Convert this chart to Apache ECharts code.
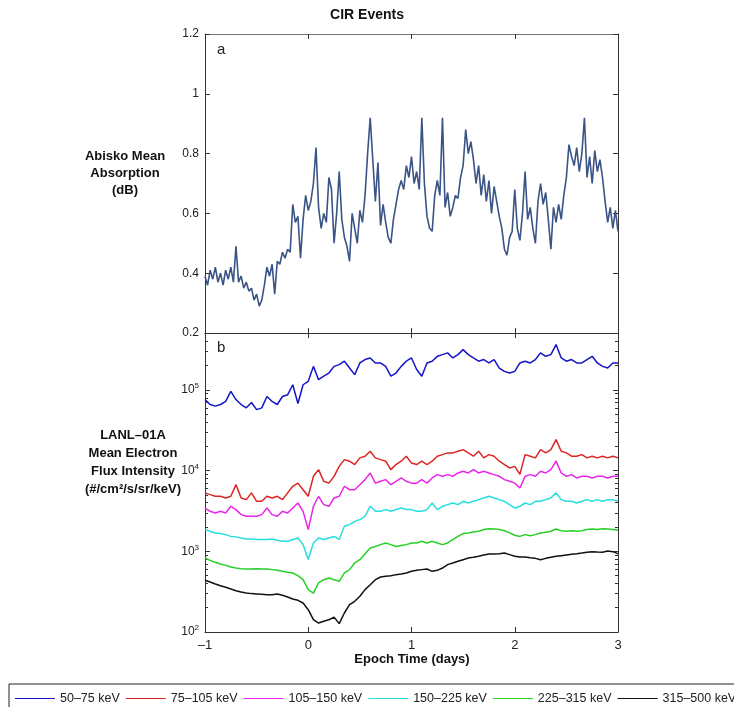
<!DOCTYPE html>
<html>
<head>
<meta charset="utf-8">
<script src="https://cdn.jsdelivr.net/npm/echarts@6/dist/echarts.min.js"></script>
<style>
  html, body { margin: 0; padding: 0; background: #fff; }
  #main { width: 734px; height: 707px; }
</style>
</head>
<body>
<div id="main"></div>
<script>
// epoch time grid: panel a every 0.025 d, panel b every 0.05 d, from -1 to 3
var T0 = -1
var STEP_A = 0.025
var STEP_B = 0.05

// panel a: Abisko mean absorption (dB)
var absorption = [
  0.39, 0.36, 0.41, 0.38, 0.42, 0.37, 0.40, 0.36,
  0.41, 0.38, 0.42, 0.37, 0.49, 0.37, 0.39, 0.35,
  0.37, 0.34, 0.35, 0.31, 0.33, 0.29, 0.31, 0.36,
  0.42, 0.39, 0.43, 0.33, 0.44, 0.43, 0.47, 0.45,
  0.48, 0.47, 0.63, 0.57, 0.59, 0.45, 0.58, 0.66,
  0.61, 0.64, 0.70, 0.82, 0.62, 0.55, 0.60, 0.57,
  0.72, 0.68, 0.50, 0.60, 0.74, 0.58, 0.52, 0.49,
  0.44, 0.60, 0.55, 0.50, 0.61, 0.57, 0.66, 0.80,
  0.92, 0.78, 0.64, 0.77, 0.56, 0.63, 0.57, 0.52,
  0.50, 0.58, 0.63, 0.68, 0.71, 0.68, 0.76, 0.72,
  0.79, 0.70, 0.74, 0.68, 0.92, 0.70, 0.59, 0.55,
  0.54, 0.66, 0.71, 0.66, 0.92, 0.62, 0.67, 0.59,
  0.62, 0.66, 0.65, 0.72, 0.76, 0.88, 0.80, 0.84,
  0.78, 0.70, 0.76, 0.66, 0.73, 0.64, 0.71, 0.60,
  0.69, 0.64, 0.59, 0.55, 0.48, 0.46, 0.52, 0.54,
  0.68, 0.55, 0.51, 0.60, 0.74, 0.58, 0.62, 0.55,
  0.50, 0.64, 0.70, 0.63, 0.67, 0.58, 0.48, 0.62,
  0.57, 0.63, 0.58, 0.66, 0.72, 0.83, 0.79, 0.76,
  0.82, 0.74, 0.80, 0.92, 0.72, 0.79, 0.70, 0.81,
  0.74, 0.78, 0.72, 0.64, 0.57, 0.62, 0.55, 0.61,
  0.54
]

// panel b: LANL-01A mean electron flux (#/cm2/s/sr/keV)
var flux50 = [
  76000, 66000, 63000, 66000, 72000, 96000, 76000, 66000, 60000, 70000,
  57000, 60000, 83000, 72000, 66000, 83000, 87000, 116000, 68000, 116000,
  128000, 196000, 134000, 148000, 162000, 196000, 206000, 227000, 187000, 155000,
  216000, 238000, 249000, 216000, 216000, 196000, 148000, 162000, 196000, 227000,
  249000, 179000, 148000, 216000, 227000, 261000, 274000, 288000, 249000, 274000,
  316000, 274000, 249000, 227000, 238000, 216000, 238000, 187000, 170000, 162000,
  170000, 216000, 227000, 216000, 238000, 288000, 261000, 274000, 365000, 249000,
  227000, 238000, 216000, 216000, 238000, 261000, 216000, 196000, 187000, 216000,
  216000
]
var flux75 = [
  5300, 5040, 4810, 4810, 4580, 4810, 6700, 4580, 4370, 5300,
  4170, 4170, 4810, 4580, 4810, 4370, 5300, 6400, 7000, 5800,
  4810, 8500, 10300, 7400, 7000, 8500, 11300, 13700, 13100, 11900,
  14400, 15100, 17400, 14400, 13700, 13100, 10300, 11900, 13100, 15100,
  12400, 11900, 13100, 11900, 13100, 15100, 15800, 16600, 16600, 17400,
  18200, 16600, 15100, 17400, 14400, 15800, 15100, 13100, 11900, 10800,
  11300, 9000, 15800, 15100, 14400, 18200, 16600, 18200, 24200, 17400,
  16600, 15100, 15100, 15800, 14400, 15100, 14400, 15100, 14400, 15100,
  14400
]
var flux105 = [
  3440, 3130, 2990, 3130, 2990, 3610, 3290, 2850, 2720, 2720,
  2720, 2850, 3440, 2850, 2720, 3130, 2990, 3440, 3970, 3130,
  1860, 3610, 4810, 3790, 3610, 4580, 4810, 6400, 5800, 5800,
  6700, 7730, 9350, 7000, 7380, 7730, 6700, 7380, 8110, 7380,
  7000, 7000, 7730, 7000, 8110, 8920, 8500, 8920, 8500, 9350,
  9810, 9350, 10300, 9350, 9810, 9350, 8920, 8500, 7730, 7380,
  7000, 6100, 8500, 8920, 8500, 9810, 9350, 10300, 13100, 9350,
  8500, 8920, 8110, 8500, 8500, 8110, 8500, 8500, 8110, 8500,
  8500
]
var flux150 = [
  1860, 1770, 1690, 1660, 1610, 1530, 1510, 1460, 1420, 1420,
  1400, 1400, 1400, 1420, 1370, 1330, 1330, 1400, 1460, 1210,
  790, 1270, 1460, 1400, 1460, 1530, 1400, 2040, 2140, 2350,
  2470, 2720, 3610, 3130, 3130, 3290, 3130, 3290, 3440, 3290,
  3290, 3130, 3130, 3290, 3970, 3290, 3610, 3790, 3970, 3790,
  4170, 3970, 4170, 4370, 4580, 4810, 4580, 4370, 4170, 3790,
  3440, 3610, 3970, 3790, 4170, 4170, 4370, 4580, 5300, 4370,
  4170, 4170, 3970, 4170, 4370, 4170, 4370, 4170, 4370, 4370,
  4170
]
var flux225 = [
  826, 773, 731, 697, 670, 640, 621, 610, 604, 604,
  610, 604, 604, 593, 581, 565, 549, 539, 499, 445,
  335, 304, 405, 445, 467, 445, 425, 539, 593, 717,
  788, 935, 1100, 1150, 1210, 1270, 1210, 1150, 1180, 1210,
  1270, 1270, 1330, 1270, 1330, 1270, 1210, 1270, 1400, 1530,
  1660, 1690, 1740, 1770, 1860, 1910, 1890, 1860, 1800, 1690,
  1580, 1530, 1610, 1560, 1610, 1690, 1720, 1770, 1890, 1800,
  1770, 1800, 1770, 1800, 1860, 1890, 1860, 1910, 1890, 1860,
  1820
]
var flux315 = [
  437, 417, 394, 375, 358, 341, 325, 313, 304, 299,
  296, 293, 290, 290, 296, 285, 272, 256, 247, 229,
  189, 142, 129, 136, 142, 153, 127, 172, 218, 240,
  277, 335, 386, 445, 481, 490, 499, 514, 524, 539,
  565, 581, 593, 604, 565, 581, 621, 684, 717, 752,
  788, 826, 843, 867, 901, 927, 927, 935, 953, 910,
  867, 851, 851, 834, 818, 788, 818, 843, 867, 884,
  901, 918, 935, 953, 972, 991, 981, 972, 1010, 991,
  935
]

var bandNames = ['50\u201375 keV', '75\u2013105 keV', '105\u2013150 keV', '150\u2013225 keV', '225\u2013315 keV', '315\u2013500 keV']
var bandColors = ['#1414c8', '#dc2424', '#e826e8', '#26dede', '#26d026', '#111111']
var bandData = [flux50, flux75, flux105, flux150, flux225, flux315]

var FONT = '"Liberation Sans", Arial, sans-serif'

function withTime(values, step) {
  return values.map(function (v, i) { return [T0 + i * step, v] })
}

const myCharts = echarts.init(document.getElementById('main'))

var frame = { onZero: false, lineStyle: { color: '#333', width: 1 } }
var tickIn = { inside: true, length: 5, lineStyle: { color: '#333' } }

var bandSeries = bandData.map(function (arr, k) {
  return {
    name: bandNames[k],
    type: 'line',
    xAxisIndex: 2,
    yAxisIndex: 2,
    symbol: 'none',
    data: withTime(arr, STEP_B),
    lineStyle: { color: bandColors[k], width: 1.5 },
    itemStyle: { color: bandColors[k] }
  }
})

var option = {
  animation: false,
  textStyle: { fontFamily: FONT },
  grid: [
    { left: 205, top: 34, width: 413, height: 299 },
    { left: 205, top: 333, width: 413, height: 299 }
  ],
  xAxis: [
    { gridIndex: 0, type: 'value', min: -1, max: 3, interval: 1, position: 'bottom',
      axisLine: frame, axisTick: tickIn, axisLabel: { show: false }, splitLine: { show: false } },
    { gridIndex: 0, type: 'value', min: -1, max: 3, interval: 1, position: 'top',
      axisLine: { onZero: false, lineStyle: { color: '#777' } }, axisTick: tickIn, axisLabel: { show: false }, splitLine: { show: false } },
    { gridIndex: 1, type: 'value', min: -1, max: 3, interval: 1, position: 'bottom',
      axisLine: frame, axisTick: tickIn, splitLine: { show: false },
      axisLabel: { color: '#222', fontSize: 13, margin: 7, fontFamily: FONT,
        formatter: function (v) { return v < 0 ? '\u2013' + Math.abs(v) : String(v) } } },
    { gridIndex: 1, type: 'value', min: -1, max: 3, interval: 1, position: 'top',
      axisLine: frame, axisTick: tickIn, axisLabel: { show: false }, splitLine: { show: false } }
  ],
  yAxis: [
    { gridIndex: 0, type: 'value', min: 0.2, max: 1.2, interval: 0.2, position: 'left',
      axisLine: frame, axisTick: tickIn, splitLine: { show: false },
      axisLabel: { color: '#222', fontSize: 12, margin: 6, fontFamily: FONT } },
    { gridIndex: 0, type: 'value', min: 0.2, max: 1.2, interval: 0.2, position: 'right',
      axisLine: frame, axisTick: tickIn, axisLabel: { show: false }, splitLine: { show: false } },
    { gridIndex: 1, type: 'log', logBase: 10, min: 100, max: 508000, position: 'left',
      axisLine: frame, axisTick: tickIn, splitLine: { show: false },
      minorTick: { show: true, splitNumber: 9, length: 3, lineStyle: { color: '#333' } },
      axisLabel: {
        margin: 6,
        showMaxLabel: false,
        formatter: function (v) { return '{b|10}{s|' + Math.round(Math.log10(v)) + '}' },
        rich: {
          b: { fontSize: 12, color: '#222', fontFamily: FONT },
          s: { fontSize: 8, color: '#222', fontFamily: FONT, verticalAlign: 'top', padding: [0, 0, 8, 0] }
        }
      } },
    { gridIndex: 1, type: 'log', logBase: 10, min: 100, max: 508000, position: 'right',
      axisLine: frame, axisTick: tickIn, axisLabel: { show: false }, splitLine: { show: false },
      minorTick: { show: true, splitNumber: 9, length: 3, lineStyle: { color: '#333' } } }
  ],
  legend: {
    data: bandNames,
    left: 9,
    top: 684,
    width: 900,
    orient: 'horizontal',
    icon: 'rect',
    itemWidth: 40,
    itemHeight: 1,
    itemGap: 6,
    padding: [8, 6, 10, 6],
    borderColor: '#222',
    borderWidth: 1,
    textStyle: { fontSize: 12.5, color: '#222', fontFamily: FONT }
  },
  graphic: [
    { type: 'text', left: 'center', top: 8, style: { text: 'CIR Events', font: 'bold 14px ' + FONT, fill: '#111' } },
    { type: 'text', x: 217, y: 42, style: { text: 'a', font: '15px ' + FONT, fill: '#222' } },
    { type: 'text', x: 217, y: 340, style: { text: 'b', font: '15px ' + FONT, fill: '#222' } },
    { type: 'text', x: 125, y: 148, style: { text: 'Abisko Mean\nAbsorption\n(dB)', font: 'bold 13px ' + FONT,
      lineHeight: 17, align: 'center', fill: '#111' } },
    { type: 'text', x: 133, y: 426, style: { text: 'LANL\u201301A\nMean Electron\nFlux Intensity\n(#/cm\u00b2/s/sr/keV)',
      font: 'bold 13px ' + FONT, lineHeight: 18, align: 'center', fill: '#111' } },
    { type: 'text', x: 412, y: 653, style: { text: 'Epoch Time (days)', font: 'bold 13px ' + FONT, align: 'center', fill: '#111' } }
  ],
  series: [
    {
      name: 'Abisko',
      type: 'line',
      xAxisIndex: 0,
      yAxisIndex: 0,
      symbol: 'none',
      data: withTime(absorption, STEP_A),
      lineStyle: { color: '#3a5486', width: 1.6 },
      itemStyle: { color: '#3a5486' }
    }
  ].concat(bandSeries)
}

myCharts.setOption(option)
</script>
</body>
</html>
